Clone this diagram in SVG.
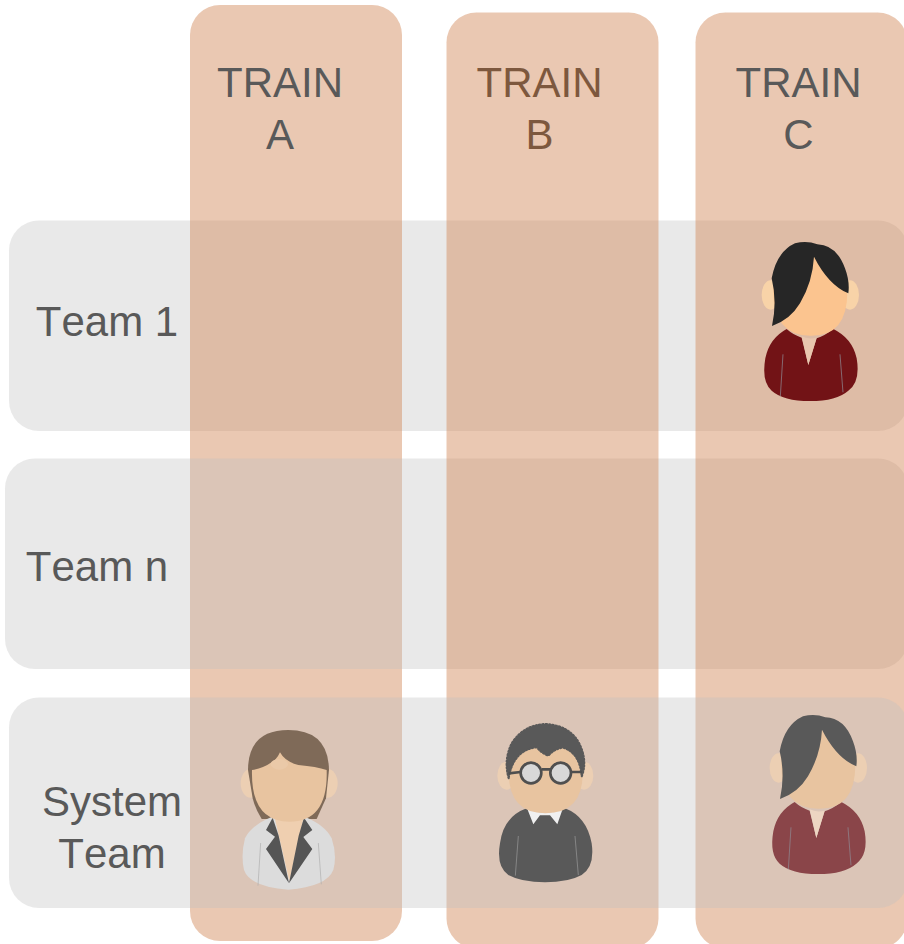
<svg xmlns="http://www.w3.org/2000/svg" xmlns:xlink="http://www.w3.org/1999/xlink" width="904" height="944" viewBox="0 0 904 944">
<style>
.col{fill:#D08655;fill-opacity:.45}
.row{fill:#C0C0C0;fill-opacity:.35}
.lbl{font-family:"Liberation Sans",Arial,sans-serif;font-size:42px;fill:#595959;text-anchor:middle;font-kerning:none}
.under{fill:#3A342C}
.ear{fill:var(--ear)}
.face{fill:var(--face)}
.hair{fill:var(--hair)}
.shirt{fill:var(--shirt)}
.neck{fill:var(--neck)}
.crease{stroke:var(--crease);stroke-width:2.5;fill:none}
.bold{--ear:#F8D3A8;--face:#FBC48F;--hair:#262626;--shirt:#721316;--neck:#E8C6AE;--crease:#8A7A82}
.faded{--ear:#ECCFB3;--face:#E8C4A0;--hair:#595959;--shirt:#8A4549;--neck:#EDD5C2;--crease:#8E8088}
</style>
<defs>
<g id="womanShort">
<ellipse class="ear" cx="92" cy="210" rx="27" ry="44"/>
<ellipse class="ear" cx="330" cy="210" rx="27" ry="44"/>
<path class="shirt" d="M140 312Q88 340 76 400Q64 470 95 497Q130 528 210 528Q290 528 325 497Q362 470 350 400Q337 340 280 312Q250 335 230 340L205 420L185 338Q160 330 140 312Z"/>
<path class="neck" d="M185 334Q205 344 230 338L205 420Z"/>
<path class="crease" d="M129 388L121 514M300 388L309 502"/>
<path class="face" d="M100 200Q100 70 215 70Q320 70 322 200Q322 335 210 332Q100 330 100 200Z"/>
<path class="hair" d="M96 303Q112 230 95 160Q110 80 165 55Q200 45 232 58Q290 60 315 130Q330 170 325 205Q265 180 222 95Q218 170 180 235Q150 285 96 303Z"/>
</g>
<g id="womanJacket">
<ellipse cx="92" cy="205" rx="30" ry="43" fill="#ECCFB3"/>
<ellipse cx="323" cy="205" rx="30" ry="43" fill="#ECCFB3"/>
<path d="M84 165Q85 45 205 45Q325 45 327 165L318 250L290 312L125 312Q105 280 98 250Z" fill="#7F6A58"/>
<path d="M155 306Q95 330 75 370Q62 420 72 465Q90 515 205 524Q320 515 340 465Q352 420 335 370Q315 330 255 306Z" fill="#DCDCDC"/>
<path d="M165 312L250 312L208 498Z" fill="#EFCFB0"/>
<path d="M158 308L138 345L165 365L138 402L207 505L176 362Z" fill="#555555"/>
<path d="M252 308L277 345L250 366L277 402L207 505L236 362Z" fill="#555555"/>
<path d="M122 384L114 512M295 384L304 508" stroke="#AEAEAE" stroke-width="2" fill="none"/>
<path d="M96 165Q130 160 150 145Q170 135 180 112Q195 140 235 150Q290 155 320 165Q325 320 208 320Q92 320 96 165Z" fill="#E8C4A0"/>
<ellipse cx="178" cy="148" rx="26" ry="16" fill="#EAC9A8"/>
</g>
<g id="man">
<ellipse cx="80" cy="197" rx="28" ry="42" fill="#ECCFB3"/>
<ellipse cx="312" cy="197" rx="28" ry="42" fill="#ECCFB3"/>
<path d="M140 295Q70 320 60 400Q48 470 85 495Q125 517 195 517Q265 517 305 495Q345 470 335 400Q320 320 255 295Q195 320 140 295Z" fill="#595959"/>
<path d="M142 297Q195 318 248 297L232 343L210 316L180 316L160 343Z" fill="#F0F0F0"/>
<path d="M115 378L106 497M285 378L295 495" stroke="#8E8E8E" stroke-width="2.5" fill="none"/>
<path d="M86 190Q85 100 195 100Q305 100 308 190Q308 310 196 310Q88 310 86 190Z" fill="#E8C4A0"/>
<path d="M86 205Q70 150 95 100Q130 45 195 42Q265 45 295 95Q325 150 305 200Q300 130 250 113Q225 115 205 137Q185 130 170 112Q100 120 86 205Z" fill="#595959" stroke="#595959" stroke-width="6" stroke-linecap="round" stroke-linejoin="round" stroke-dasharray="4 6"/>
<path d="M86 190L122 186M185 178L211 178M272 186L306 186" stroke="#4F4F4F" stroke-width="8" fill="none"/>
<circle cx="153" cy="189" r="31" fill="#D8D8D8" stroke="#4F4F4F" stroke-width="8"/>
<circle cx="242" cy="189" r="31" fill="#D8D8D8" stroke="#4F4F4F" stroke-width="8"/>
</g>
</defs>
<g id="team-1-row">
<rect class="row" x="9" y="220.5" width="899" height="210.5" rx="30" ry="30"/>
</g>
<g id="train-a">
<rect class="col" x="190" y="5" width="212" height="936" rx="30" ry="30"/>
</g>
<g id="team-n-row">
<rect class="row" x="5" y="458.5" width="903" height="210.5" rx="30" ry="30"/>
<text class="lbl" x="97" y="581">Team n</text>
</g>
<g id="train-b">
<text class="lbl under" x="539.5" y="97">TRAIN</text>
<text class="lbl under" x="539.5" y="149">B</text>
<rect class="col" x="446.5" y="12.5" width="212" height="936" rx="30" ry="30"/>
</g>
<g id="train-c">
<rect class="col" x="695.5" y="12.5" width="212" height="936" rx="30" ry="30"/>
<text class="lbl" x="798.5" y="97">TRAIN</text>
<text class="lbl" x="798.5" y="149">C</text>
</g>
<g id="train-a-label">
<text class="lbl" x="280" y="97">TRAIN</text>
<text class="lbl" x="280" y="149">A</text>
</g>
<g id="team-1-label">
<text class="lbl" x="107" y="336">Team 1</text>
</g>
<g id="system-team-row">
<rect class="row" x="9" y="697.5" width="899" height="210.5" rx="30" ry="30"/>
<text class="lbl" x="112" y="816">System</text>
<text class="lbl" x="112" y="868">Team</text>
</g>
<g id="person-team-1-c" class="bold">
<use xlink:href="#womanShort" href="#womanShort" transform="translate(740 225) scale(.3333)"/>
</g>
<g id="person-system-a">
<use xlink:href="#womanJacket" href="#womanJacket" transform="translate(220 715) scale(.3333)"/>
</g>
<g id="person-system-b">
<use xlink:href="#man" href="#man" transform="translate(480 710) scale(.3333)"/>
</g>
<g id="person-system-c" class="faded">
<use xlink:href="#womanShort" href="#womanShort" transform="translate(748 698) scale(.3333)"/>
</g>
</svg>
